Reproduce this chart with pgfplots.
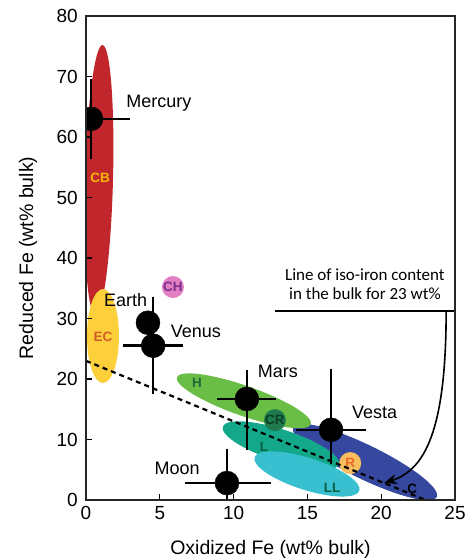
\documentclass[border=0pt]{standalone}
\usepackage{fontspec}
\setmainfont{Liberation Sans}
\newfontfamily\calib{Carlito}
\usepackage{pgfplots}
\pgfplotsset{compat=1.18}
\usetikzlibrary{arrows.meta}

\definecolor{cbred}{HTML}{C0262C}
\definecolor{ecyellow}{HTML}{FCCF3B}
\definecolor{eclabel}{HTML}{CF5F28}
\definecolor{cblabel}{HTML}{F5B50A}
\definecolor{chpink}{HTML}{E27FC3}
\definecolor{chtext}{HTML}{7B2E8E}
\definecolor{hgreen}{HTML}{6BBE45}
\definecolor{htext}{HTML}{1D6A38}
\definecolor{lteal}{HTML}{14A88B}
\definecolor{ltext}{HTML}{0B5E3F}
\definecolor{llcyan}{HTML}{38BFD0}
\definecolor{cblue}{HTML}{35479E}
\definecolor{crgreen}{HTML}{1F7B4D}
\definecolor{crtext}{HTML}{0A3F24}
\definecolor{rfill}{HTML}{F8BE5E}
\definecolor{rtext}{HTML}{E96A28}

\begin{document}
\begin{tikzpicture}
\useasboundingbox (-86pt,-59pt) rectangle (388pt,500pt);
\begin{axis}[
    scale only axis,
    width=369pt, height=484pt,
    xmin=0, xmax=25, ymin=0, ymax=80,
    xtick={0,5,10,15,20,25},
    ytick={0,10,20,30,40,50,60,70,80},
    tick align=inside,
    tick pos=left,
    major tick length=6pt,
    axis line style={line width=1.3pt, black!85},
    tick style={line width=1.2pt, black},
    axis on top,
    clip marker paths=true,
    /pgf/number format/assume math mode=true,
    tick label style={font=\fontsize{19}{21}\selectfont},
    yticklabel style={anchor=east, inner sep=0pt, xshift=-8pt},
    xticklabel style={anchor=north, inner sep=0pt, yshift=-6pt},
    every axis x label/.style={at={(axis description cs:0.5,-0.103)}, anchor=center,
        font=\fontsize{19.5}{22}\selectfont},
    every axis y label/.style={at={(axis description cs:-0.157,0.5)}, rotate=90, anchor=center,
        font=\fontsize{19.5}{22}\selectfont},
    xlabel={Oxidized Fe (wt\% bulk)},
    ylabel={Reduced Fe (wt\% bulk)},
]
% compositional fields of the meteorite groups
\fill[cbred, rotate around={-1.5:(axis cs:0.88,52.9)}] (axis cs:0.88,52.9) ellipse [x radius=14pt, y radius=135pt];
\fill[ecyellow] (axis cs:1.15,27.1) ellipse [x radius=16pt, y radius=47pt];
\fill[chpink] (axis cs:5.89,35.2) circle [radius=11pt];
\fill[cblue, rotate around={-26:(axis cs:18.9,6.28)}] (axis cs:18.9,6.28) ellipse [x radius=80pt, y radius=17pt];
\fill[hgreen, rotate around={-19.3:(axis cs:10.7,16.4)}] (axis cs:10.7,16.4) ellipse [x radius=71pt, y radius=15pt];
\fill[lteal, rotate around={-18:(axis cs:13.2,9.0)}] (axis cs:13.2,9.0) ellipse [x radius=61pt, y radius=16pt];
\fill[llcyan, rotate around={-17.6:(axis cs:14.97,4.3)}] (axis cs:14.97,4.3) ellipse [x radius=55pt, y radius=16pt];
\fill[crgreen] (axis cs:12.8,13.2) circle [radius=11pt];
\fill[rfill] (axis cs:17.9,6.1) circle [radius=11pt];

\begin{scope}[font=\fontsize{13.5}{15}\selectfont\bfseries]
\node[cblabel] at (axis cs:0.95,53.2) {CB};
\node[eclabel] at (axis cs:1.15,26.9) {EC};
\node[chtext] at (axis cs:5.89,35.2) {CH};
\node[htext] at (axis cs:7.52,19.3) {H};
\node[crtext] at (axis cs:12.8,13.2) {CR};
\node[ltext] at (axis cs:12.06,8.76) {L};
\node[ltext] at (axis cs:16.67,2.0) {LL};
\node[rtext] at (axis cs:17.9,6.1) {R};
\node[black] at (axis cs:22.1,1.8) {C};
\end{scope}

% line of iso-iron content
\addplot[black, line width=2.2pt, dash pattern=on 5pt off 4pt] coordinates {(0,23) (23,0)};

% planetary bodies
\addplot[only marks, mark=*, mark size=12pt, black,
    error bars/.cd, x dir=both, x explicit, y dir=both, y explicit,
    error mark=none, error bar style={line width=2.5pt, black}]
coordinates {
    (0.34,63.0) += (2.64,6.6) -= (2.64,6.6)
    (4.2,29.3) += (0,0) -= (0,0)
    (4.55,25.5) += (2.05,8.0) -= (2.05,8.0)
    (10.9,16.7) += (2.0,4.8) -= (2.0,8.4)
    (9.55,2.8) += (2.95,5.6) -= (2.85,5.6)
    (16.6,11.6) += (2.35,10.0) -= (2.35,5.6)
};

\begin{scope}[font=\fontsize{18}{20}\selectfont]
\node[anchor=west] at (axis cs:2.5,65.6) {Mercury};
\node at (axis cs:2.68,33.1) {Earth};
\node at (axis cs:7.45,27.8) {Venus};
\node at (axis cs:13.0,21.3) {Mars};
\node at (axis cs:19.55,14.4) {Vesta};
\node at (axis cs:6.17,5.3) {Moon};
\end{scope}

\node[align=center, font=\calib\fontsize{17}{18.5}\selectfont] at (axis cs:18.9,35.7)
    {Line of iso-iron content\\in the bulk for 23 wt\%};
\draw[line width=1.6pt, black] (axis cs:12.8,31.2) -- (axis cs:25,31.2);
\draw[line width=1.6pt, black, -{Stealth[length=13pt, width=10pt]}]
    (axis cs:24.4,31.2) .. controls (axis cs:24.4,11.6) and (axis cs:22.97,4.96) .. (axis cs:20.19,2.81);
\end{axis}
\end{tikzpicture}
\end{document}
